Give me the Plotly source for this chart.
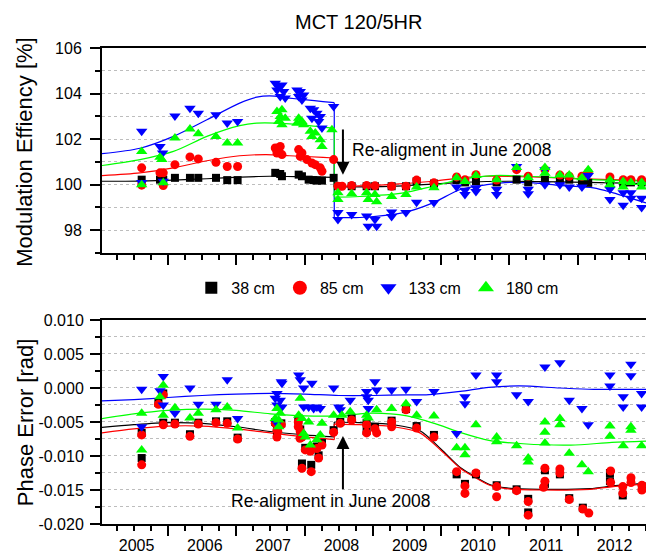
import plotly.graph_objects as go

# ---------------- data ----------------
series_names = ["38 cm", "85 cm", "133 cm", "180 cm"]
year_labels = ["2005", "2006", "2007", "2008", "2009", "2010", "2011", "2012"]
me_ticks = [98, 100, 102, 104, 106]
pe_ticks = [-0.020, -0.015, -0.010, -0.005, 0.000, 0.005, 0.010]
pe_tick_labels = ["-0.020", "-0.015", "-0.010", "-0.005", "0.000", "0.005", "0.010"]

# Modulation efficiency [%]
me_38 = [(2005.615,100.22),(2005.883,100.22),(2005.931,100.22),(2006.102,100.30),(2006.322,100.30),(2006.444,100.30),(2006.703,100.30),(2006.868,100.20),(2007.020,100.20),
         (2007.571,100.52),(2007.644,100.47),(2007.669,100.37),(2007.914,100.44),(2007.962,100.37),(2008.060,100.22),(2008.133,100.20),(2008.181,100.18),(2008.255,100.18),(2008.426,100.30),
         (2008.489,99.93),(2008.690,99.93),(2008.909,99.93),(2009.031,99.93),(2009.275,99.93),(2009.485,99.93),(2009.641,100.15),(2009.895,100.05),(2010.227,100.20),(2010.349,100.10),
         (2010.510,100.15),(2010.813,100.10),(2011.105,100.22),(2011.275,100.10),(2011.520,100.22),(2011.739,100.22),(2011.876,100.22),(2012.062,100.15),(2012.154,100.08),
         (2012.472,100.12),(2012.666,100.08),(2012.779,100.10),(2012.936,100.10)]
me_85 = [(2005.615,100.74),(2005.615,99.98),(2005.883,100.52),(2005.931,100.52),(2005.931,99.96),(2006.102,100.88),(2006.322,101.22),(2006.444,101.13),(2006.703,100.98),(2006.868,100.80),(2007.020,100.80),
         (2007.571,101.61),(2007.644,101.68),(2007.621,101.46),(2007.669,101.32),(2007.596,101.39),(2007.914,101.54),(2007.962,101.39),(2007.937,101.24),(2008.035,101.10),(2008.108,100.95),
         (2008.157,100.88),(2008.230,100.74),(2008.255,100.59),(2008.426,101.10),
         (2008.489,99.93),(2008.550,99.93),(2008.690,99.96),(2008.909,99.96),(2009.031,99.95),(2009.275,99.93),(2009.485,99.93),(2009.641,100.20),(2009.895,100.08),(2010.227,100.34),
         (2010.349,100.22),(2010.510,100.44),(2010.813,100.20),(2011.105,100.66),(2011.275,100.37),(2011.520,100.66),(2011.739,100.42),(2011.876,100.37),(2012.062,100.37),(2012.154,100.54),
         (2012.472,100.34),(2012.666,100.22),(2012.779,100.22),(2012.936,100.22)]
me_133 = [(2005.615,100.10),(2005.931,100.15),(2005.615,102.34),(2005.883,101.68),(2005.922,101.39),(2006.102,103.02),(2006.322,103.36),(2006.444,103.14),(2006.703,103.07),(2006.868,102.71),(2007.020,102.77),
          (2007.571,104.45),(2007.621,104.30),(2007.596,104.16),(2007.669,104.38),(2007.694,104.09),(2007.644,103.87),(2007.717,103.80),
          (2007.889,104.16),(2007.937,104.09),(2007.914,103.87),(2007.987,103.94),(2007.962,103.72),
          (2008.084,103.36),(2008.133,103.29),(2008.181,103.14),(2008.230,102.99),(2008.108,102.92),(2008.206,102.77),(2008.255,102.49),(2008.426,103.43),
          (2008.489,98.78),(2008.489,98.47),(2008.690,98.69),(2008.909,98.62),(2008.933,98.18),(2009.031,98.47),(2009.056,98.18),
          (2009.275,98.80),(2009.275,98.60),(2009.485,98.78),(2009.641,99.23),(2009.895,99.22),(2010.227,99.90),(2010.349,99.75),(2010.349,99.57),(2010.510,99.87),(2010.510,99.70),
          (2010.813,99.80),(2010.813,99.57),(2011.105,100.80),(2011.275,99.80),(2011.275,99.60),(2011.520,100.66),(2011.520,100.00),(2011.739,100.00),(2011.876,99.90),(2012.062,99.90),
          (2012.154,100.40),(2012.472,99.80),(2012.472,99.35),(2012.666,99.65),(2012.666,99.10),(2012.779,99.65),(2012.779,99.40),(2012.936,99.40),(2012.936,99.00)]
me_180 = [(2005.615,101.46),(2005.615,100.00),(2005.883,101.20),(2005.910,101.10),(2005.931,100.08),(2006.102,102.05),(2006.322,102.44),(2006.444,102.24),(2006.703,102.12),(2006.868,101.83),(2007.020,101.83),
          (2007.596,103.21),(2007.669,103.29),(2007.644,102.99),(2007.717,102.92),(2007.621,102.77),(2007.669,102.63),
          (2007.914,102.92),(2007.962,102.77),(2007.889,102.70),(2007.987,102.63),
          (2008.084,102.34),(2008.157,102.27),(2008.108,102.12),(2008.230,101.97),(2008.255,101.68),(2008.401,102.41),
          (2008.489,99.65),(2008.489,99.35),(2008.690,99.60),(2008.909,99.65),(2008.933,99.35),(2009.031,99.57),(2009.056,99.25),(2009.275,99.48),(2009.485,99.57),(2009.641,99.90),
          (2009.895,99.87),(2010.227,100.30),(2010.349,100.14),(2010.510,100.40),(2010.813,100.22),(2011.105,100.75),(2011.275,100.30),(2011.520,100.75),(2011.520,100.50),
          (2011.739,100.42),(2011.876,100.42),(2012.062,100.30),(2012.154,100.66),(2012.472,100.20),(2012.472,100.00),(2012.666,100.14),(2012.666,99.90),(2012.779,100.10),
          (2012.936,100.10),(2012.936,99.90)]

# Phase error [rad]
pe_38 = [(2005.615,-0.0066),(2005.615,-0.0103),(2005.860,-0.0022),(2005.931,-0.0008),(2005.931,-0.0051),(2006.102,-0.0051),(2006.322,-0.0068),(2006.444,-0.0051),(2006.703,-0.0049),(2006.868,-0.0049),(2007.020,-0.0073),
         (2007.571,-0.0050),(2007.596,-0.0059),(2007.596,-0.0069),(2007.660,-0.0052),(2007.908,-0.0048),(2007.937,-0.0061),(2007.962,-0.0069),(2008.010,-0.0088),(2008.084,-0.0090),
         (2008.181,-0.0086),(2008.206,-0.0099),(2008.255,-0.0081),(2007.962,-0.0111),(2008.098,-0.0113),(2008.426,-0.0062),(2008.523,-0.0050),(2008.690,-0.0045),
         (2008.909,-0.0051),(2008.909,-0.0063),(2009.031,-0.0057),(2009.275,-0.0048),(2009.485,-0.0031),(2009.641,-0.0056),(2009.895,-0.0069),(2010.227,-0.0127),(2010.349,-0.0141),
         (2010.510,-0.0127),(2010.813,-0.0143),(2011.105,-0.0149),(2011.275,-0.0183),(2011.275,-0.0163),(2011.520,-0.0121),(2011.520,-0.0141),(2011.739,-0.0127),(2011.876,-0.0162),
         (2012.075,-0.0176),(2012.472,-0.0125),(2012.472,-0.0137),(2012.660,-0.0158),(2012.780,-0.0136),(2012.940,-0.0147)]
pe_85 = [(2005.615,-0.0069),(2005.615,-0.0113),(2005.860,-0.0024),(2005.931,-0.0010),(2005.931,-0.0054),(2006.102,-0.0053),(2006.322,-0.0071),(2006.444,-0.0053),(2006.703,-0.0051),(2006.868,-0.0052),(2007.020,-0.0075),
         (2007.571,-0.0052),(2007.596,-0.0062),(2007.596,-0.0072),(2007.660,-0.0054),(2007.608,-0.0064),
         (2007.908,-0.0050),(2007.908,-0.0057),(2007.933,-0.0074),(2007.937,-0.0064),(2007.962,-0.0072),(2008.010,-0.0091),(2008.084,-0.0093),(2008.181,-0.0089),(2008.206,-0.0103),
         (2008.255,-0.0084),(2007.962,-0.0118),(2008.098,-0.0123),(2008.426,-0.0065),(2008.523,-0.0052),(2008.690,-0.0047),
         (2008.909,-0.0054),(2008.909,-0.0066),(2009.031,-0.0060),(2009.056,-0.0066),(2009.275,-0.0050),(2009.275,-0.0057),(2009.485,-0.0032),(2009.641,-0.0059),(2009.895,-0.0072),
         (2010.227,-0.0123),(2010.349,-0.0144),(2010.349,-0.0155),(2010.510,-0.0125),(2010.813,-0.0145),(2010.813,-0.0160),(2011.105,-0.0151),(2011.275,-0.0167),(2011.275,-0.0187),
         (2011.520,-0.0118),(2011.520,-0.0137),(2011.500,-0.0146),(2011.739,-0.0119),(2011.739,-0.0125),(2011.876,-0.0164),(2012.075,-0.0178),(2012.163,-0.0184),(2012.482,-0.0122),
         (2012.482,-0.0139),(2012.660,-0.0145),(2012.660,-0.0155),(2012.780,-0.0132),(2012.780,-0.0139),(2012.940,-0.0143),(2012.940,-0.0150)]
pe_133 = [(2005.615,-0.0002),(2005.615,-0.0057),(2005.883,-0.0004),(2005.931,0.0017),(2005.931,-0.0025),(2006.102,-0.0037),(2006.322,0.0000),(2006.444,-0.0024),(2006.703,-0.0024),(2006.868,0.0012),(2007.020,-0.0045),
          (2007.596,-0.0008),(2007.571,-0.0015),(2007.644,-0.0018),(2007.596,-0.0025),(2007.669,-0.0028),(2007.596,-0.0052),(2007.669,0.0007),(2007.660,0.0009),
          (2007.914,0.0019),(2007.937,0.0012),(2007.987,0.0000),(2008.108,0.0007),
          (2007.987,-0.0028),(2008.060,-0.0028),(2008.133,-0.0030),(2008.181,-0.0028),(2008.230,-0.0030),
          (2008.426,0.0000),(2008.500,-0.0028),(2008.523,-0.0032),(2008.669,-0.0018),
          (2008.909,-0.0005),(2008.909,-0.0013),(2008.933,-0.0018),(2008.933,-0.0030),(2009.031,0.0009),(2009.056,-0.0003),
          (2009.275,-0.0003),(2009.485,-0.0002),(2009.641,-0.0020),(2009.895,-0.0005),(2010.227,-0.0067),(2010.349,-0.0013),(2010.349,-0.0023),(2010.510,0.0019),(2010.813,0.0019),
          (2010.813,0.0009),(2011.105,-0.0010),(2011.275,-0.0020),(2011.520,0.0031),(2011.739,0.0037),(2011.876,-0.0018),(2012.062,-0.0030),(2012.154,-0.0054),(2012.472,0.0019),
          (2012.472,0.0003),(2012.666,-0.0013),(2012.666,-0.0028),(2012.779,0.0035),(2012.779,0.0018),(2012.936,-0.0008),(2012.936,-0.0028)]
pe_180 = [(2005.615,-0.0037),(2005.615,-0.0091),(2005.883,-0.0013),(2005.931,0.0004),(2005.931,-0.0040),(2006.102,-0.0029),(2006.322,-0.0044),(2006.444,-0.0037),(2006.703,-0.0032),(2006.868,-0.0028),(2007.020,-0.0059),
          (2007.596,-0.0030),(2007.644,-0.0037),(2007.571,-0.0045),(2007.621,-0.0047),(2007.621,-0.0057),
          (2007.937,-0.0015),(2007.914,-0.0040),(2007.962,-0.0045),(2008.060,-0.0050),(2007.987,-0.0067),(2008.010,-0.0072),(2008.084,-0.0084),(2008.181,-0.0076),(2008.230,-0.0069),(2008.255,-0.0052),
          (2008.426,-0.0040),(2008.547,-0.0040),(2008.669,-0.0035),
          (2008.909,-0.0040),(2008.933,-0.0044),(2009.056,-0.0032),(2009.275,-0.0030),(2009.485,-0.0023),(2009.641,-0.0040),(2009.895,-0.0041),(2010.227,-0.0088),(2010.349,-0.0088),
          (2010.349,-0.0098),(2010.510,-0.0054),(2010.813,-0.0072),(2010.813,-0.0079),(2011.105,-0.0085),(2011.275,-0.0103),(2011.275,-0.0109),(2011.520,-0.0050),(2011.520,-0.0065),
          (2011.520,-0.0081),(2011.739,-0.0045),(2011.739,-0.0054),(2011.876,-0.0096),(2012.062,-0.0113),(2012.154,-0.0123),(2012.472,-0.0056),(2012.472,-0.0071),(2012.666,-0.0085),
          (2012.779,-0.0057),(2012.779,-0.0062),(2012.936,-0.0085)]

# Fitted curves (pre / post re-alignment segments)
fit_me_38 = [[(2005.03,100.15),(2005.59,100.16),(2006.08,100.20),(2006.57,100.26),(2007.05,100.33),(2007.49,100.37),(2008.03,100.34),(2008.435,100.32)],
             [(2008.435,99.90),(2008.81,99.90),(2009.45,99.95),(2009.88,100.02),(2010.28,100.10),(2010.67,100.14),(2011.01,100.15),(2011.74,100.12),(2012.52,100.08),(2013.0,100.05)]]
fit_me_85 = [[(2005.03,100.40),(2005.59,100.52),(2006.08,100.74),(2006.57,101.05),(2007.05,101.27),(2007.44,101.32),(2007.78,101.27),(2008.27,101.20),(2008.435,101.17)],
             [(2008.435,99.93),(2008.81,99.95),(2009.45,100.05),(2009.88,100.15),(2010.28,100.30),(2010.67,100.37),(2011.35,100.34),(2011.74,100.30),(2012.23,100.24),(2013.0,100.18)]]
fit_me_133 = [[(2005.03,101.36),(2005.59,101.60),(2006.08,102.12),(2006.57,102.85),(2007.05,103.58),(2007.30,103.84),(2007.49,103.90),(2007.78,103.80),(2008.03,103.72),(2008.27,103.65),(2008.435,103.60)],
              [(2008.435,98.56),(2008.81,98.56),(2009.45,98.77),(2009.88,99.20),(2010.28,99.79),(2010.67,100.00),(2011.01,100.10),(2011.35,100.08),(2011.74,99.97),(2012.23,99.86),(2012.52,99.64),(2013.0,99.20)]]
fit_me_180 = [[(2005.03,100.84),(2005.59,101.10),(2006.08,101.46),(2006.57,102.12),(2007.05,102.59),(2007.30,102.70),(2007.78,102.67),(2008.27,102.53),(2008.435,102.49)],
              [(2008.435,99.45),(2008.81,99.48),(2009.45,99.64),(2009.88,99.93),(2010.28,100.22),(2010.77,100.40),(2011.30,100.37),(2011.74,100.30),(2012.23,100.22),(2013.0,100.15)]]
fit_pe_38 = [[(2005.03,-0.0058),(2005.5,-0.0054),(2006.0,-0.0051),(2006.5,-0.0052),(2007.0,-0.0057),(2007.5,-0.0064),(2008.0,-0.0069),(2008.435,-0.0072)],
             [(2008.435,-0.0050),(2008.8,-0.0051),(2009.3,-0.0054),(2009.69,-0.0063),(2010.0,-0.0090),(2010.28,-0.0117),(2010.47,-0.0129),(2010.71,-0.0142),(2010.96,-0.0147),(2011.45,-0.0149),(2012.18,-0.0148),(2012.52,-0.0144),(2013.0,-0.0140)]]
fit_pe_85 = [[(2005.03,-0.0066),(2005.5,-0.0060),(2006.0,-0.0056),(2006.5,-0.0056),(2007.0,-0.0060),(2007.5,-0.0066),(2008.0,-0.0072),(2008.435,-0.0076)],
             [(2008.435,-0.0053),(2008.8,-0.0054),(2009.3,-0.0057),(2009.69,-0.0066),(2010.0,-0.0092),(2010.28,-0.0118),(2010.47,-0.0130),(2010.71,-0.0143),(2010.96,-0.0148),(2011.45,-0.0150),(2012.18,-0.0149),(2012.52,-0.0145),(2013.0,-0.0141)]]
fit_pe_133 = [[(2005.03,-0.0019),(2005.5,-0.0017),(2006.0,-0.0014),(2006.5,-0.0011),(2007.0,-0.0009),(2007.5,-0.0008),(2008.0,-0.0009),(2008.5,-0.0011),(2009.0,-0.0011),(2009.5,-0.0010),
               (2009.78,-0.0010),(2010.28,-0.0005),(2010.7,0.0001),(2011.15,0.0003),(2011.74,0.0000),(2012.23,-0.0002),(2013.0,-0.0002)]]
fit_pe_180 = [[(2005.03,-0.0045),(2005.5,-0.0038),(2006.0,-0.0033),(2006.5,-0.0031),(2007.0,-0.0033),(2007.5,-0.0038),(2008.0,-0.0041),(2008.5,-0.0041),(2009.0,-0.0037),(2009.5,-0.0041),
               (2009.9,-0.0052),(2010.3,-0.0066),(2010.7,-0.0077),(2011.2,-0.0082),(2011.9,-0.0084),(2012.5,-0.0080),(2013.0,-0.0078)]]

# ---------------- style ----------------
FONT = "Liberation Sans, Arial, sans-serif"
colors = ["#000000", "#ff0000", "#0000ff", "#00ff00"]
symbols = ["square", "circle", "triangle-down", "triangle-up"]
sizes = [8, 9, 10, 10]
legend_sizes = [12, 14, 14, 14]

X_RANGE = [2005.034, 2013.0]
year_ticks = [int(y) for y in year_labels]
label_pos = [y + 0.54 for y in year_ticks]
quarter_ticks = [2005 + 0.25 * i for i in range(33)]

fig = go.Figure()

def add_fit(segs, color, xa, ya):
    for seg in segs:
        fig.add_trace(go.Scatter(x=[p[0] for p in seg], y=[p[1] for p in seg], mode="lines",
                                 line=dict(color=color, width=1.2, shape="spline", smoothing=0.8),
                                 xaxis=xa, yaxis=ya, showlegend=False, hoverinfo="skip"))
    for a, b in zip(segs[:-1], segs[1:]):
        fig.add_trace(go.Scatter(x=[a[-1][0], b[0][0]], y=[a[-1][1], b[0][1]], mode="lines",
                                 line=dict(color=color, width=1.2),
                                 xaxis=xa, yaxis=ya, showlegend=False, hoverinfo="skip"))

for fits, ya, xa in [([fit_me_38, fit_me_85, fit_me_133, fit_me_180], "y", "x"),
                     ([fit_pe_38, fit_pe_85, fit_pe_133, fit_pe_180], "y2", "x2")]:
    for segs, c in zip(fits, colors):
        add_fit(segs, c, xa, ya)

for data, xa, ya in [([me_38, me_85, me_133, me_180], "x", "y"),
                     ([pe_38, pe_85, pe_133, pe_180], "x2", "y2")]:
    for pts, c, s, sz in zip(data, colors, symbols, sizes):
        fig.add_trace(go.Scatter(x=[p[0] for p in pts], y=[p[1] for p in pts], mode="markers",
                                 marker=dict(color=c, symbol=s, size=sz, line=dict(width=0)),
                                 xaxis=xa, yaxis=ya, showlegend=False))

# legend entries
for name, c, s, sz in zip(series_names, colors, symbols, legend_sizes):
    fig.add_trace(go.Scatter(x=[None], y=[None], mode="markers", name=name,
                             marker=dict(color=c, symbol=s, size=sz, line=dict(width=0)),
                             xaxis="x", yaxis="y", showlegend=True))

# dummy trace for label axis
fig.add_trace(go.Scatter(x=[None], y=[None], xaxis="x3", yaxis="y2", showlegend=False, hoverinfo="skip"))

axis_common = dict(showline=True, linecolor="black", linewidth=2, zeroline=False,
                   ticks="outside", tickcolor="black", tickwidth=1.5, automargin=False,
                   tickfont=dict(family=FONT, size=16, color="black"))
grid = dict(showgrid=True, gridcolor="#bdbdbd", gridwidth=1, griddash="dot")

xcommon = dict(axis_common, range=X_RANGE, tickmode="array", tickvals=year_ticks,
               ticklen=10, showgrid=False, mirror=True, showticklabels=False,
               minor=dict(tickmode="array", tickvals=quarter_ticks, ticks="outside",
                          ticklen=5, tickwidth=1.5, tickcolor="black", showgrid=False))

fig.update_layout(
    width=646, height=555,
    margin=dict(l=102, r=0, t=48, b=31, autoexpand=False),
    paper_bgcolor="white", plot_bgcolor="white",
    font=dict(family=FONT, size=16, color="black"),
    showlegend=True,
    legend=dict(orientation="h", x=0.507, xanchor="center", y=0.496, yanchor="middle",
                font=dict(family=FONT, size=16), bgcolor="rgba(0,0,0,0)", itemwidth=30,
                traceorder="normal"),
    xaxis=dict(xcommon, domain=[0, 1], anchor="y"),
    xaxis2=dict(xcommon, domain=[0, 1], anchor="y2", matches="x"),
    xaxis3=dict(overlaying="x2", anchor="y2", range=X_RANGE, tickmode="array",
                tickvals=label_pos, ticktext=year_labels, ticks="outside", ticklen=7,
                tickcolor="rgba(0,0,0,0)", showline=False, showgrid=False, zeroline=False,
                automargin=False, tickfont=dict(family=FONT, size=16, color="black")),
    yaxis=dict(axis_common, **grid, domain=[0.5693, 1.0], anchor="x", range=[97, 106],
               tickmode="array", tickvals=me_ticks, ticklen=10, ticklabelstandoff=5,
               minor=dict(tickmode="array", tickvals=[97, 99, 101, 103, 105], ticks="outside",
                          ticklen=5, tickwidth=1.5, tickcolor="black",
                          showgrid=True, gridcolor="#bdbdbd", gridwidth=1, griddash="dot")),
    yaxis2=dict(axis_common, **grid, domain=[0.0, 0.4286], anchor="x2", range=[-0.020, 0.010],
                tickmode="array", tickvals=pe_ticks, ticktext=pe_tick_labels, ticklen=10,
                ticklabelstandoff=3,
                minor=dict(tickmode="array", tickvals=[-0.0175, -0.0125, -0.0075, -0.0025, 0.0025, 0.0075],
                           ticks="outside", ticklen=5, tickwidth=1.5, tickcolor="black",
                           showgrid=True, gridcolor="#bdbdbd", gridwidth=1, griddash="dot")),
)

ann_font = dict(family=FONT, size=17.5, color="black")
fig.add_annotation(text="MCT 120/5HR", xref="paper", yref="paper", x=0.4706, y=1.0546,
                   xanchor="center", yanchor="middle", showarrow=False,
                   font=dict(family=FONT, size=20, color="black"))
fig.add_annotation(text="Modulation Effiency [%]", xref="paper", yref="paper", x=-0.1415, y=0.782,
                   xanchor="center", yanchor="middle", textangle=-90, showarrow=False,
                   font=dict(family=FONT, size=22, color="black"))
fig.add_annotation(text="Phase Error [rad]", xref="paper", yref="paper", x=-0.1415, y=0.214,
                   xanchor="center", yanchor="middle", textangle=-90, showarrow=False,
                   font=dict(family=FONT, size=22, color="black"))
# re-alignment notes
fig.add_annotation(text="Re-aligment in June 2008", xref="x", yref="y", x=2008.665, y=101.53,
                   xanchor="left", yanchor="middle", showarrow=False, font=ann_font)
fig.add_annotation(text="", xref="x", yref="y", x=2008.562, y=100.44, axref="x", ayref="y",
                   ax=2008.562, ay=102.49, showarrow=True, arrowhead=2, arrowsize=1.3,
                   arrowwidth=2, arrowcolor="black")
fig.add_annotation(text="Re-aligment in June 2008", xref="x2", yref="y2", x=2006.896, y=-0.01666,
                   xanchor="left", yanchor="middle", showarrow=False, font=ann_font)
fig.add_annotation(text="", xref="x2", yref="y2", x=2008.562, y=-0.00706, axref="x2", ayref="y2",
                   ax=2008.562, ay=-0.0151, showarrow=True, arrowhead=2, arrowsize=1.3,
                   arrowwidth=2, arrowcolor="black")

fig.write_html("out.html", config={"displayModeBar": False},
               post_script="document.body.style.margin='0px';document.body.style.overflow='hidden';")
